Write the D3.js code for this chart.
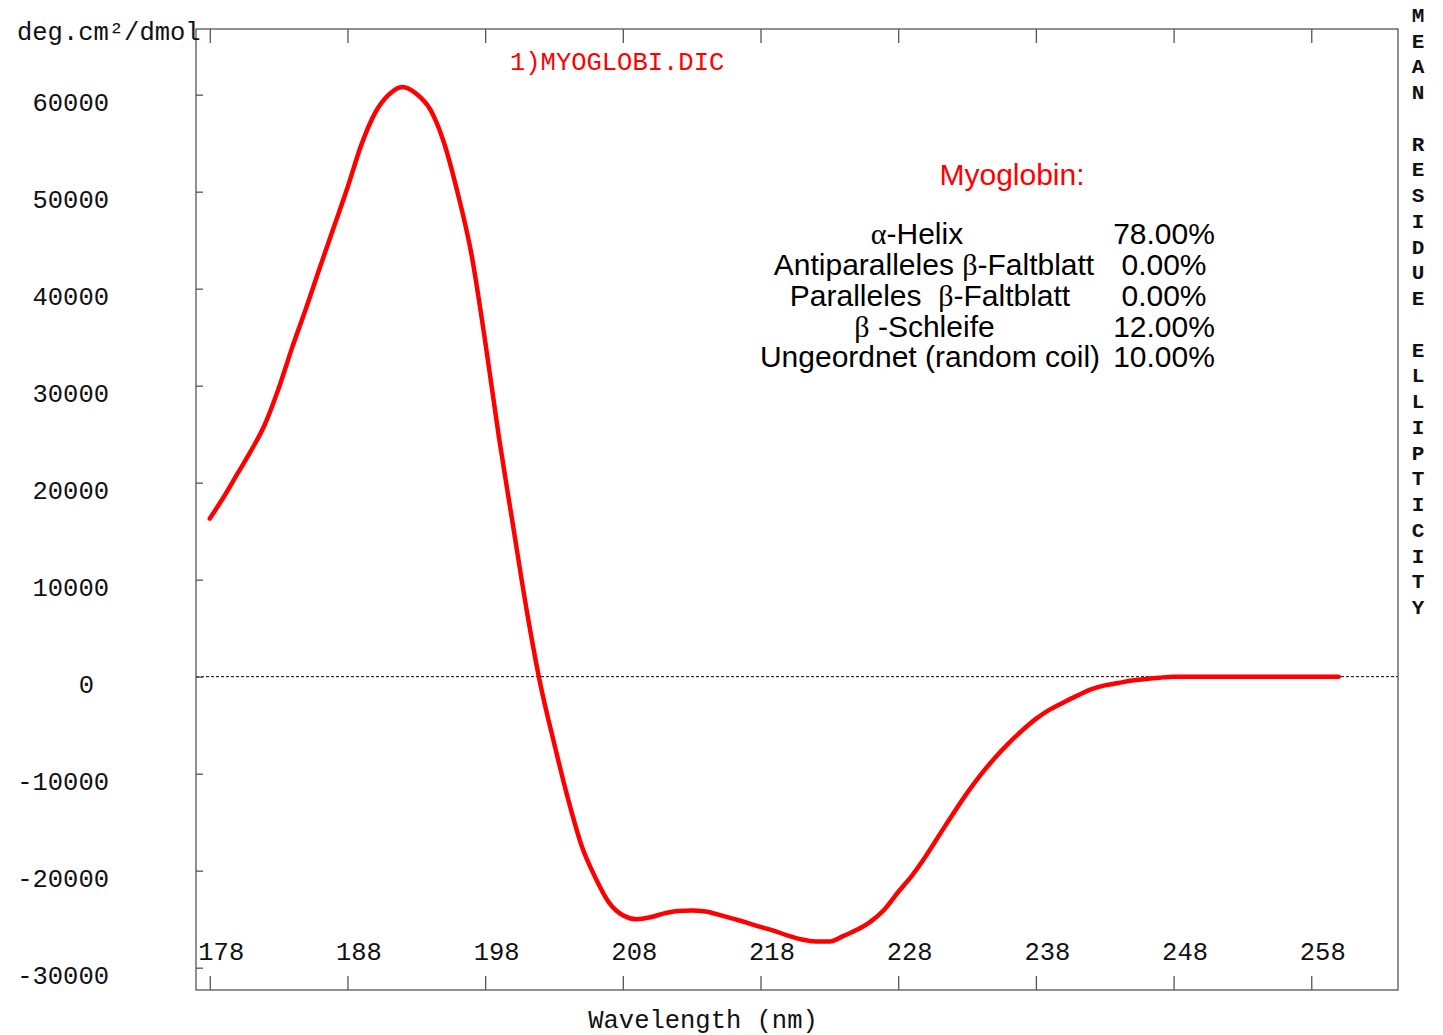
<!DOCTYPE html>
<html>
<head>
<meta charset="utf-8">
<script src="https://cdn.jsdelivr.net/npm/d3@7"></script>
<style>
  html, body { margin: 0; padding: 0; background: #fff; }
  svg { display: block; }
  text { white-space: pre; }
</style>
</head>
<body>
<svg id="chart" width="1443" height="1035"></svg>
<script>
// CD spectrum of myoglobin: mean residue ellipticity vs wavelength
const wavelengths = d3.range(178, 261); // 178 .. 260 nm, 1 nm steps
const ellipticity = [
  16300, 18500, 20900, 23300, 26000, 29700, 34000, 38000, 42200, 46300,   // 178-187
  50400, 54800, 58100, 60000, 60800, 60100, 58500, 55100, 49900, 43600,   // 188-197
  34600, 24700, 15800, 7000, -700, -6800, -12500, -17400, -20700, -23300, // 198-207
  -24600, -25000, -24800, -24400, -24150, -24100, -24200, -24550, -24950, -25350, // 208-217
  -25800, -26200, -26700, -27100, -27300, -27300, -26750, -26100, -25250, -24000, // 218-227
  -22200, -20500, -18500, -16300, -14100, -12000, -10100, -8400, -6900, -5550,    // 228-237
  -4350, -3400, -2650, -1950, -1300, -900, -650, -400, -250, -100,               // 238-247
  0, 0, 0, 0, 0, 0, 0, 0, 0, 0, 0, 0, 0                                          // 248-260
];

const xTicks = [178, 188, 198, 208, 218, 228, 238, 248, 258];
const yTicks = [-30000, -20000, -10000, 0, 10000, 20000, 30000, 40000, 50000, 60000];

const fileTitle = "1)MYOGLOBI.DIC";
const yUnit = "deg.cm\u00B2/dmol";
const xTitle = "Wavelength (nm)";
const sideTitle = "MEAN RESIDUE ELLIPTICITY";

const boxTitle = "Myoglobin:";
const structureNames = [
  "\u03B1-Helix",
  "Antiparalleles \u03B2-Faltblatt",
  "Paralleles  \u03B2-Faltblatt",
  "\u03B2 -Schleife",
  "Ungeordnet (random coil)"
];
const structureShares = [78.00, 0.00, 0.00, 12.00, 10.00];

// ---- layout ----
const frame = { left: 196, right: 1398, top: 29, bottom: 990 };
const mono = "'Liberation Mono', 'DejaVu Sans Mono', monospace";
const sans = "'Liberation Sans', Arial, sans-serif";
const axisColor = "#555";
const red = "#ff0000";

const svg = d3.select("#chart");

const x = d3.scaleLinear().domain([177, 264.3]).range([frame.left, frame.right]);
const y = d3.scaleLinear().domain([-32300, 66770]).range([frame.bottom, frame.top]);

// zero reference line
svg.append("line")
  .attr("x1", frame.left).attr("x2", frame.right)
  .attr("y1", y(0)).attr("y2", y(0))
  .attr("stroke", "#000").attr("stroke-width", 1)
  .attr("stroke-dasharray", "3,2");

// plot frame
svg.append("rect")
  .attr("x", frame.left).attr("y", frame.top)
  .attr("width", frame.right - frame.left).attr("height", frame.bottom - frame.top)
  .attr("fill", "none").attr("stroke", axisColor).attr("stroke-width", 1.3);

// left axis: inward ticks, labels far to the left
const gy = svg.append("g")
  .attr("transform", `translate(${frame.left},0)`)
  .call(d3.axisLeft(y).tickValues(yTicks).tickSizeInner(-7).tickSizeOuter(0).tickPadding(87)
        .tickFormat(d => String(d)));
gy.select(".domain").remove();
gy.selectAll(".tick line").attr("stroke", axisColor).attr("stroke-width", 1.3);
gy.selectAll(".tick text")
  .attr("dy", 16)
  .attr("dx", d => d === 0 ? -15 : 0)
  .attr("fill", "#111")
  .style("font-family", mono).style("font-size", "25.5px");

// bottom axis: upward ticks, labels inside the plot area
const gx = svg.append("g")
  .attr("transform", `translate(0,${frame.bottom})`)
  .call(d3.axisBottom(x).tickValues(xTicks).tickSizeInner(-14).tickSizeOuter(0)
        .tickFormat(d => String(d)));
gx.select(".domain").remove();
gx.selectAll(".tick line").attr("stroke", axisColor).attr("stroke-width", 1.3);
gx.selectAll(".tick text")
  .attr("y", -30).attr("dy", 0).attr("x", 11)
  .attr("fill", "#111")
  .style("font-family", mono).style("font-size", "25.5px");

// top axis: downward ticks only
const gt = svg.append("g")
  .attr("transform", `translate(0,${frame.top})`)
  .call(d3.axisTop(x).tickValues(xTicks).tickSizeInner(-14).tickSizeOuter(0).tickFormat(""));
gt.select(".domain").remove();
gt.selectAll(".tick line").attr("stroke", axisColor).attr("stroke-width", 1.3);

// spectrum
const data = wavelengths.map((w, i) => ({ w, v: ellipticity[i] }));
svg.append("path")
  .datum(data)
  .attr("fill", "none")
  .attr("stroke", red)
  .attr("stroke-width", 4.5)
  .attr("stroke-linejoin", "round")
  .attr("stroke-linecap", "round")
  .attr("d", d3.line().x(d => x(d.w)).y(d => y(d.v)).curve(d3.curveMonotoneX));

// axis titles
svg.append("text")
  .attr("x", 17).attr("y", 40)
  .attr("fill", "#111")
  .style("font-family", mono).style("font-size", "25.5px")
  .text(yUnit);

svg.append("text")
  .attr("x", 703).attr("y", 1028)
  .attr("text-anchor", "middle")
  .attr("fill", "#111")
  .style("font-family", mono).style("font-size", "25.5px")
  .text(xTitle);

svg.append("text")
  .attr("x", 510).attr("y", 70)
  .attr("fill", red)
  .style("font-family", mono).style("font-size", "25.5px")
  .text(fileTitle);

// vertical stacked side title
svg.append("g")
  .selectAll("text")
  .data(sideTitle.split(""))
  .join("text")
  .attr("x", 1418)
  .attr("y", (c, i) => 22 + i * 25.74)
  .attr("text-anchor", "middle")
  .attr("fill", "#111")
  .style("font-family", mono).style("font-size", "21px").style("font-weight", "bold")
  .text(c => c);

// secondary-structure summary
svg.append("text")
  .attr("x", 1012).attr("y", 185)
  .attr("text-anchor", "middle")
  .attr("fill", red)
  .style("font-family", sans).style("font-size", "30px")
  .text(boxTitle);

const rowBaseline = [244, 275, 306, 336.5, 367];
const nameCenter = [917, 934, 930, 924.5, 930];

const rows = svg.append("g").style("font-family", sans).style("font-size", "30px").attr("fill", "#000");
structureNames.forEach((name, i) => {
  const t = rows.append("text")
    .attr("x", nameCenter[i]).attr("y", rowBaseline[i])
    .attr("text-anchor", "middle");
  // Greek letters are set in a serif face
  name.split(/([\u03B1\u03B2])/).filter(s => s.length).forEach(part => {
    const span = t.append("tspan").text(part);
    if (/[\u03B1\u03B2]/.test(part)) span.style("font-family", "'Liberation Serif', 'DejaVu Serif', serif");
  });
  rows.append("text")
    .attr("x", 1164).attr("y", rowBaseline[i])
    .attr("text-anchor", "middle")
    .text(structureShares[i].toFixed(2) + "%");
});
</script>
</body>
</html>
